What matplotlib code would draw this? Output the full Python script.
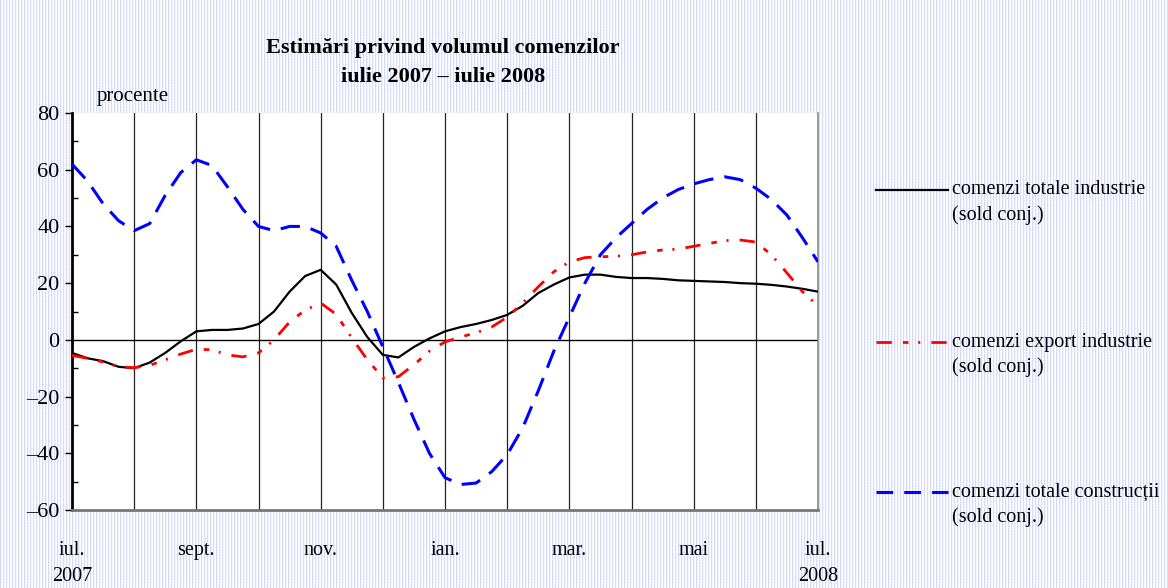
import numpy as np
import matplotlib
matplotlib.use("Agg")
import matplotlib.pyplot as plt
from matplotlib.lines import Line2D

plt.rcParams['font.family'] = ['Liberation Serif', 'DejaVu Serif']
plt.rcParams['lines.scale_dashes'] = False

# months since July 2007 (quarter-month readings)
months = [i / 4 for i in range(49)]
total_industrie = [-4.6, -6.5, -7.5, -9.5, -10, -8, -4.6, -0.5, 3, 3.5, 3.5, 4,
                   5.6, 10, 17, 22.5, 24.7, 19.5, 9.5, 1, -5.3, -6.2, -2.5, 0.5,
                   3, 4.5, 5.6, 7, 8.8, 12, 16.5, 19.5, 22, 23, 23, 22.2,
                   21.8, 21.8, 21.5, 21, 20.8, 20.6, 20.4, 20, 19.8, 19.4, 18.8,
                   18, 17]
export_industrie = [-5.5, -6.5, -7.8, -9.5, -9.8, -9, -7, -5, -3.3, -3.5, -5.3,
                    -6, -4.6, 0, 6.3, 10.5, 13, 9, 0.7, -7, -13.4, -13, -8.8, -4,
                    -0.7, 1, 2.5, 4.5, 8, 13, 18.7, 24, 27.5, 29, 29.3, 29.5,
                    30, 31, 31.7, 32, 33, 34, 35, 35.2, 34.5, 30, 23.6, 17, 12]
total_constructii = [62, 56, 48, 42, 38.5, 41, 51, 59, 63.5, 61.5, 54, 46, 40,
                     38.5, 40, 40, 37.7, 33, 21, 10, -2.5, -15, -28, -40, -48.6,
                     -51, -50.5, -46.5, -40.5, -31, -18, -4, 8, 20, 30, 36, 41,
                     46, 50, 53, 55, 56.5, 57.5, 56.5, 53.5, 49.5, 44, 36, 27.5]

tick_pos = [0, 2, 4, 6, 8, 10, 12]
tick_labels = ['iul.\n2007', 'sept.', 'nov.', 'ian.', 'mar.', 'mai', 'iul.\n2008']

W, H = 1168, 588
fig = plt.figure(figsize=(W / 100, H / 100), dpi=100)

# dotted background pattern
pat = np.ones((H, W, 3))
pat[:, ::3, :] = np.array([0.84, 0.86, 0.97])
pat[::2, 1::3, :] = np.array([0.93, 0.94, 0.99])
fig.figimage(pat, 0, 0, zorder=0)

ax = fig.add_axes([72 / W, 1 - 510 / H, (818 - 72) / W, (510 - 113) / H])
ax.set_facecolor('white')
ax.set_zorder(1)

for m in range(1, 12):
    ax.axvline(m, color='#222222', lw=0.9, zorder=1)
ax.axhline(0, color='black', lw=1.0, zorder=1)

red_style = (0, (11, 8, 4, 7, 1.5, 8))
blue_style = (0, (14, 8))
ax.plot(months, total_industrie, color='black', lw=1.6, zorder=3)
ax.plot(months, export_industrie, color='#ff0000', lw=2.0,
        linestyle=red_style, zorder=3)
ax.plot(months, total_constructii, color='#0000ff', lw=2.2,
        linestyle=blue_style, zorder=3)

ax.set_xlim(0, 12)
ax.set_ylim(-60, 80)
ax.set_yticks(range(-60, 81, 20))
ax.set_yticklabels(['\u201360', '\u201340', '\u201320', '0', '20', '40', '60', '80'])
ax.set_yticks(range(-50, 80, 20), minor=True)
ax.tick_params(axis='y', which='major', direction='out', length=5, width=1,
               labelsize=16, pad=4)
ax.tick_params(axis='y', which='minor', direction='in', length=4, width=1)
ax.set_xticks(tick_pos)
ax.set_xticklabels(tick_labels, fontsize=14.5, linespacing=1.5)
ax.tick_params(axis='x', length=0, pad=22)

ax.spines['top'].set_visible(False)
ax.spines['left'].set_linewidth(2)
ax.spines['left'].set_color('black')
ax.spines['bottom'].set_linewidth(2)
ax.spines['bottom'].set_color('#777777')
ax.spines['right'].set_linewidth(1.2)
ax.spines['right'].set_color('#888888')

fig.text(443 / W, 1 - 48 / H, 'Estimări privind volumul comenzilor',
         ha='center', va='center', fontsize=16, fontweight='bold')
fig.text(443 / W, 1 - 77 / H, 'iulie 2007 \u2013 iulie 2008',
         ha='center', va='center', fontsize=16, fontweight='bold')
fig.text(97 / W, 1 - 97 / H, 'procente', ha='left', va='center', fontsize=15)

# legend
entries = [
    (190, dict(color='black', lw=1.6, linestyle='-'), 'comenzi totale industrie'),
    (342, dict(color='#ff0000', lw=2.0, linestyle=red_style),
     'comenzi export industrie'),
    (492, dict(color='#0000ff', lw=2.2, linestyle=(0, (12, 8))),
     'comenzi totale construcții'),
]
for y, style, label in entries:
    fig.add_artist(Line2D([876 / W, 948 / W], [1 - y / H, 1 - y / H],
                          transform=fig.transFigure, **style))
    fig.text(952 / W, 1 - y / H, label, ha='left', va='center', fontsize=14.5)
    fig.text(952 / W, 1 - (y + 25) / H, '(sold conj.)', ha='left',
             va='center', fontsize=14.5)

fig.savefig('out.png', dpi=100)
